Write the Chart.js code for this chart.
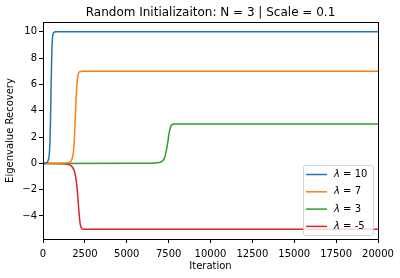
<!DOCTYPE html>
<html>
<head>
<meta charset="utf-8">
<script src="https://cdn.jsdelivr.net/npm/chart.js@4.4.1/dist/chart.umd.min.js"></script>
<style>
  html, body { margin: 0; padding: 0; background: #fff; }
  #wrap { width: 400px; height: 278px; position: relative; }
</style>
</head>
<body>
<div id="wrap"><canvas id="chart" width="400" height="278"></canvas></div>
<script>
const TITLE = 'Random Initializaiton: N = 3 | Scale = 0.1';
const X_LABEL = 'Iteration';
const Y_LABEL = 'Eigenvalue Recovery';
const xTicks = [0, 2500, 5000, 7500, 10000, 12500, 15000, 17500, 20000];
const yTicks = [-4, -2, 0, 2, 4, 6, 8, 10];

const lambdas = ['10', '7', '3', '-5'];
const colors = ['#1f77b4', '#ff7f0e', '#2ca02c', '#d62728'];

// iteration / value pairs
const blueX = [0, 200, 300, 370, 420, 450, 480, 510, 540, 580, 640, 750, 20000];
const blueY = [0, 0.05, 0.2, 0.6, 1.8, 3.5, 5.5, 7.5, 9, 9.7, 9.95, 10, 10];
const orangeX = [0, 1400, 1600, 1720, 1820, 1880, 1930, 1980, 2030, 2090, 2180, 2400, 20000];
const orangeY = [0, 0.02, 0.1, 0.3, 0.9, 2, 3.5, 5, 6.1, 6.7, 6.97, 7, 7];
const greenX = [0, 6000, 6800, 7100, 7250, 7350, 7450, 7530, 7620, 7750, 7900, 20000];
const greenY = [0, 0.01, 0.05, 0.15, 0.4, 0.9, 1.6, 2.3, 2.8, 2.98, 3, 3];
const redX = [0, 1000, 1500, 1700, 1850, 1950, 2030, 2100, 2160, 2220, 2290, 2400, 20000];
const redY = [0, -0.02, -0.08, -0.2, -0.5, -1.0, -1.8, -2.9, -3.9, -4.6, -4.9, -5, -5];

const seriesX = [blueX, orangeX, greenX, redX];
const seriesY = [blueY, orangeY, greenY, redY];

const FONT = 'DejaVu Sans';

const boxPlugin = {
  id: 'box',
  afterDatasetsDraw(chart) {
    const a = chart.chartArea, ctx = chart.ctx;
    ctx.save();
    ctx.strokeStyle = '#000';
    ctx.lineWidth = 1;
    ctx.strokeRect(Math.round(a.left) + 0.5, Math.round(a.top) + 0.5,
      Math.round(a.right - a.left), Math.round(a.bottom - a.top));
    ctx.restore();
  }
};

const legendPlugin = {
  id: 'mplLegend',
  afterDraw(chart) {
    const ctx = chart.ctx;
    const x0 = 303, y0 = 165, w = 70, h = 70;
    ctx.save();
    ctx.globalAlpha = 0.8;
    ctx.fillStyle = '#fff';
    ctx.strokeStyle = '#cccccc';
    ctx.lineWidth = 1;
    ctx.beginPath();
    ctx.roundRect(x0 + 0.5, y0 + 0.5, w, h, 2);
    ctx.fill();
    ctx.stroke();
    ctx.globalAlpha = 1;
    chart.data.datasets.forEach((ds, i) => {
      const y = 174.5 + i * 17.3;
      ctx.strokeStyle = ds.borderColor;
      ctx.lineWidth = 1.5;
      ctx.beginPath();
      ctx.moveTo(306, y);
      ctx.lineTo(327, y);
      ctx.stroke();
      ctx.fillStyle = '#000';
      ctx.textBaseline = 'middle';
      ctx.font = 'italic 10px ' + FONT;
      ctx.fillText('λ', 334, y);
      const lw = ctx.measureText('λ').width;
      ctx.font = '10px ' + FONT;
      ctx.fillText(' = ' + lambdas[i], 334 + lw, y);
    });
    ctx.restore();
  }
};

const datasets = seriesX.map((xs, i) => ({
  label: 'λ = ' + lambdas[i],
  data: xs.map((x, j) => ({ x: x, y: seriesY[i][j] })),
  borderColor: colors[i],
  backgroundColor: colors[i],
  borderWidth: 1.5,
  pointRadius: 0,
  cubicInterpolationMode: 'monotone',
  fill: false
}));

new Chart(document.getElementById('chart').getContext('2d'), {
  type: 'line',
  data: { datasets: datasets },
  options: {
    responsive: false,
    animation: false,
    events: [],
    layout: { padding: { left: 0, right: 22, top: 0, bottom: 0 } },
    plugins: {
      legend: { display: false },
      tooltip: { enabled: false },
      title: {
        display: true,
        fullSize: false,
        text: TITLE,
        color: '#000',
        font: { family: FONT, size: 12, weight: 'normal', lineHeight: 1.2 },
        padding: { top: 6, bottom: 1.6 }
      }
    },
    scales: {
      x: {
        type: 'linear',
        min: 0, max: 20000,
        afterBuildTicks(scale) { scale.ticks = xTicks.map(v => ({ value: v })); },
        afterFit(scale) { scale.height = 39; },
        grid: { drawOnChartArea: false, tickLength: 4, color: '#000', tickColor: '#000' },
        border: { color: '#000' },
        ticks: {
          autoSkip: false, maxRotation: 0, padding: 5,
          color: '#000', font: { family: FONT, size: 10 },
          callback: v => String(v)
        },
        title: {
          display: true, text: X_LABEL, color: '#000',
          font: { family: FONT, size: 10, lineHeight: 1.2 },
          padding: { top: 0, bottom: 6 }
        }
      },
      y: {
        type: 'linear',
        min: -5.75, max: 10.75,
        afterBuildTicks(scale) { scale.ticks = yTicks.map(v => ({ value: v })); },
        afterFit(scale) { scale.width = 43; },
        grid: { drawOnChartArea: false, tickLength: 4, color: '#000', tickColor: '#000' },
        border: { color: '#000' },
        ticks: {
          padding: 2, color: '#000', font: { family: FONT, size: 10 },
          callback: v => (v < 0 ? '\u2212' + Math.abs(v) : String(v))
        },
        title: {
          display: true, text: Y_LABEL, color: '#000',
          font: { family: FONT, size: 10, lineHeight: 1.2 },
          padding: { top: 4, bottom: 0 }
        }
      }
    }
  },
  plugins: [boxPlugin, legendPlugin]
});
</script>
</body>
</html>
